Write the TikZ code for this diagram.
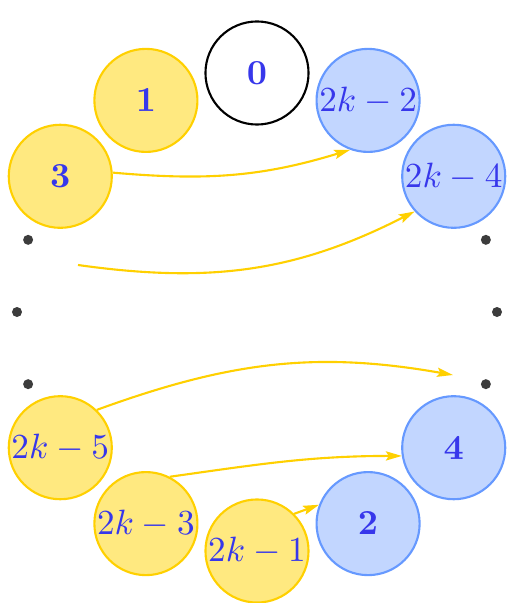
\documentclass[tikz,border=0pt]{standalone}
\usepackage{amsmath}
\usetikzlibrary{arrows.meta}

\definecolor{oddline}{RGB}{255,208,0}
\definecolor{oddfill}{RGB}{255,233,128}
\definecolor{evenline}{RGB}{102,153,255}
\definecolor{evenfill}{RGB}{194,214,255}
\definecolor{numtext}{RGB}{55,55,235}
\definecolor{dotgray}{RGB}{60,60,60}

\begin{document}
\begin{tikzpicture}[
    x=0.01cm, y=0.01cm,
    seat/.style={circle, minimum size=1.03cm, inner sep=0pt, line width=0.6pt,
                 text=numtext},
    oddseat/.style={seat, draw=oddline, fill=oddfill},
    evenseat/.style={seat, draw=evenline, fill=evenfill},
    zeroseat/.style={seat, draw=black, fill=white},
    link/.style={draw=oddline, line width=0.6pt,
                 -{Stealth[length=4.5pt,width=2.6pt,inset=0.8pt]}},
    gap/.style={fill=dotgray},
  ]
    %% 좌표: 큰 원의 중심이 원점, 한 칸 = 27.7도
    \def\R{239}
    \def\st{27.7}

    \useasboundingbox (-257,-291) rectangle (249,312);

    %% --- 0 (맨 위) ---
    \node[zeroseat] (n0) at (90:\R) {$\mathbf{0}$};

    %% --- 왼쪽: 홀수 ---
    \node[oddseat] (a1)   at ({90+\st}:\R)   {$\mathbf{1}$};
    \node[oddseat] (a3)   at ({90+2*\st}:\R) {$\mathbf{3}$};
    \node[oddseat] (a2k5) at ({270-2*\st}:\R) {$2k-5$};
    \node[oddseat] (a2k3) at ({270-\st}:\R)   {$2k-3$};
    \node[oddseat] (a2k1) at (270:\R)         {$2k-1$};

    %% --- 오른쪽: 짝수 ---
    \node[evenseat] (b2k2) at ({90-\st}:\R)   {$2k-2$};
    \node[evenseat] (b2k4) at ({90-2*\st}:\R) {$2k-4$};
    \node[evenseat] (b4)   at ({-90+2*\st}:\R) {$\mathbf{4}$};
    \node[evenseat] (b2)   at ({-90+\st}:\R)   {$\mathbf{2}$};

    %% --- 생략 점 ---
    \foreach \a in {162.5,180,197.5,17.5,0,-17.5}
      \fill[gap] (\a:240) circle (5);

    %% --- 화살표 ---
    \coordinate (s2k4) at (-179,47);
    \coordinate (e2k5) at (196,-63);

    \draw[link] (a3.4) to[out=-5, in=197] (b2k2.250);
    \draw[link] (s2k4) to[out=-8, in=207] (b2k4.222);
    \draw[link] (a2k5.46) to[out=20, in=170] (e2k5);
    \draw[link] (a2k3.63) to[out=8, in=180] (b4.189);
    \draw[link] (a2k1.45) -- (b2.159);

\end{tikzpicture}
\end{document}
